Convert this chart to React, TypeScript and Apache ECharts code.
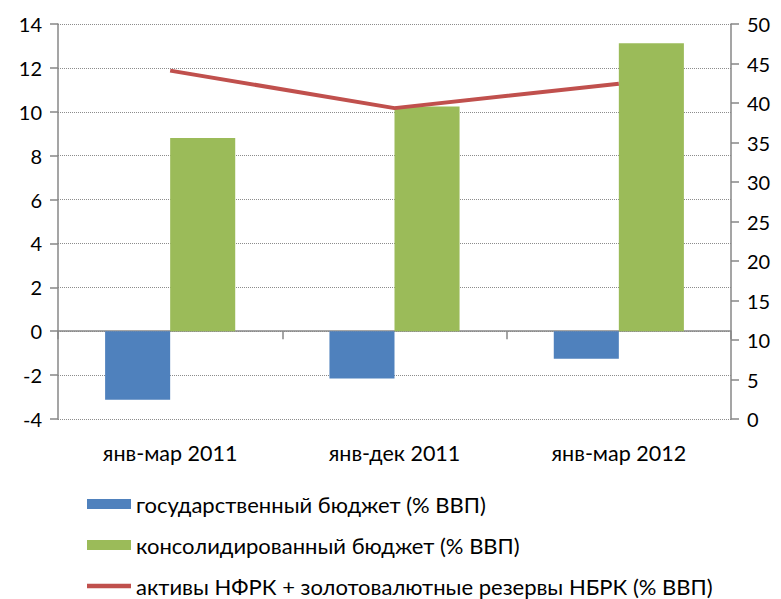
import React, { useEffect, useRef } from "react";
import * as echarts from "echarts";

const categories = ["янв-мар 2011", "янв-дек 2011", "янв-мар 2012"];
const stateBudget = [-3.12, -2.16, -1.25];
const consolidatedBudget = [8.81, 10.24, 13.12];
const assets = [44.1, 39.35, 42.45];

const seriesNames = [
  "государственный бюджет (% ВВП)",
  "консолидированный бюджет (% ВВП)",
  "активы НФРК + золотовалютные резервы НБРК (% ВВП)",
];

const FONT = "Lato, Carlito, 'Noto Sans', sans-serif";
const AXIS_COLOR = "#878787";
const LINE_ICON = "path://M0,0L0,0M0,2.75L44,2.75L44,7.25L0,7.25ZM0,10L0,10";

export default function App() {
  const ref = useRef<HTMLDivElement>(null);
  useEffect(() => {
    if (!ref.current) return;
    const chart = echarts.init(ref.current, undefined, { renderer: "svg" });
    chart.setOption({
      animation: false,
      backgroundColor: "#ffffff",
      textStyle: { fontFamily: FONT, color: "#000" },
      grid: { left: 58, right: 50, top: 24, bottom: 180, containLabel: false },
      legend: {
        orient: "vertical",
        left: 87,
        top: 493,
        width: 680,
        height: 110,
        padding: 0,
        itemWidth: 44,
        itemHeight: 10,
        itemGap: 19,
        itemTextGap: 3,
        textStyle: { fontFamily: FONT, fontSize: 22, color: "#000", lineHeight: 22 },
        data: [
          { name: seriesNames[0], icon: "rect" },
          { name: seriesNames[1], icon: "rect" },
          { name: seriesNames[2], icon: LINE_ICON },
        ],
      },
      xAxis: [
        {
          type: "category",
          data: categories,
          axisLine: { onZero: true, lineStyle: { color: AXIS_COLOR, width: 1.5 } },
          axisTick: { show: true, length: 8, lineStyle: { color: AXIS_COLOR, width: 1.5 } },
          axisLabel: { show: false },
          splitLine: { show: false },
        },
        {
          type: "category",
          data: categories,
          position: "bottom",
          axisLine: { show: false, onZero: false },
          axisTick: { show: false },
          axisLabel: { show: true, margin: 23, fontSize: 21.5, fontFamily: FONT, color: "#000" },
          splitLine: { show: false },
        },
      ],
      yAxis: [
        {
          type: "value",
          min: -4,
          max: 14,
          interval: 2,
          position: "left",
          axisLine: { show: true, lineStyle: { color: AXIS_COLOR, width: 1.5 } },
          axisTick: { show: true, length: 8, lineStyle: { color: AXIS_COLOR, width: 1.5 } },
          axisLabel: { fontSize: 20, margin: 16, fontFamily: FONT, color: "#000" },
          splitLine: { show: true, lineStyle: { color: "#8c8c8c", type: "dotted", width: 1 } },
        },
        {
          type: "value",
          min: 0,
          max: 50,
          interval: 5,
          position: "right",
          alignTicks: false,
          axisLine: { show: true, lineStyle: { color: AXIS_COLOR, width: 1.5 } },
          axisTick: { show: true, length: 8, lineStyle: { color: AXIS_COLOR, width: 1.5 } },
          axisLabel: { fontSize: 20, margin: 16, fontFamily: FONT, color: "#000" },
          splitLine: { show: false },
        },
      ],
      series: [
        {
          name: seriesNames[0],
          type: "bar",
          xAxisIndex: 0,
          yAxisIndex: 0,
          data: stateBudget,
          barGap: "0%",
          barCategoryGap: "42%",
          itemStyle: { color: "#4F81BD" },
        },
        {
          name: seriesNames[1],
          type: "bar",
          xAxisIndex: 0,
          yAxisIndex: 0,
          data: consolidatedBudget,
          barGap: "0%",
          barCategoryGap: "42%",
          itemStyle: { color: "#9BBB59" },
        },
        {
          name: seriesNames[2],
          type: "line",
          xAxisIndex: 0,
          yAxisIndex: 1,
          data: assets,
          symbol: "none",
          z: 5,
          lineStyle: { color: "#C0504D", width: 4 },
          itemStyle: { color: "#C0504D" },
        },
      ],
    });
    return () => chart.dispose();
  }, []);
  return <div ref={ref} style={{ width: 781, height: 599, position: "absolute", left: 0, top: 0 }} />;
}
